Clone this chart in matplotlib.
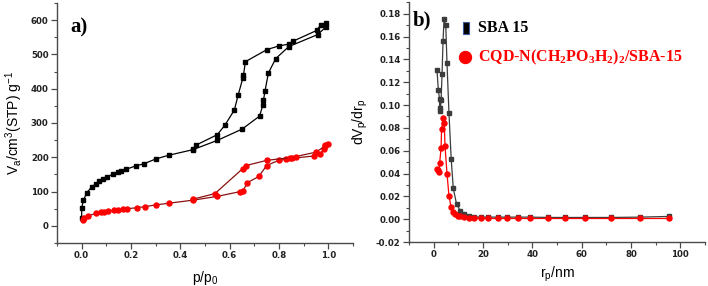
import matplotlib
matplotlib.use("Agg")
import matplotlib.pyplot as plt
from matplotlib.patches import Rectangle
from matplotlib.ticker import MultipleLocator, AutoMinorLocator

plt.rcParams['mathtext.default'] = 'regular'

# ---------------- data: panel a) isotherms ----------------
sba_ads_x = [0.0, 0.0, 0.007, 0.02, 0.04, 0.058, 0.072, 0.085, 0.104, 0.128, 0.147, 0.16, 0.18,
             0.22, 0.252, 0.30, 0.353, 0.45, 0.549, 0.65, 0.721, 0.735, 0.737, 0.743, 0.757,
             0.787, 0.84, 0.957, 0.99]
sba_ads_y = [22, 52, 74, 96, 113, 123, 130, 136, 143, 151, 156, 160, 165,
             175, 181, 195, 206, 222, 249, 282, 320, 353, 366, 392, 446,
             488, 523, 558, 580]
sba_des_x = [0.99, 0.97, 0.953, 0.855, 0.84, 0.80, 0.751, 0.664, 0.656, 0.653, 0.635, 0.619,
             0.581, 0.55, 0.465, 0.45]
sba_des_y = [592, 587, 570, 538, 530, 525, 514, 479, 440, 430, 383, 338,
             294, 266, 236, 224]

cqd_ads_x = [0.007, 0.009, 0.026, 0.06, 0.077, 0.09, 0.106, 0.133, 0.147, 0.166, 0.185, 0.225,
             0.255, 0.30, 0.353, 0.452, 0.55, 0.643, 0.654, 0.672, 0.718, 0.75, 0.798, 0.827,
             0.854, 0.943, 0.968, 0.984, 0.988]
cqd_ads_y = [18, 24, 29, 37, 39, 41, 43, 45, 47, 48, 50, 53,
             56, 61, 66, 75, 86, 100, 102, 126, 144, 176, 191, 194,
             197, 204, 211, 224, 237]
cqd_des_x = [0.997, 0.987, 0.95, 0.867, 0.845, 0.75, 0.667, 0.653, 0.54, 0.452]
cqd_des_y = [240, 233, 215, 202, 199, 191, 176, 167, 94, 78]

# ---------------- data: panel b) pore size distribution ----------------
sba_r = [1.35, 1.9, 2.4, 2.4, 2.7, 3.0, 3.4, 3.8, 4.2, 4.9, 5.4, 6.2, 7.1, 7.95, 9.3, 10.8,
         12.4, 14.3, 16.4, 19.1, 22.2, 25.9, 29.6, 34, 39, 46.4, 53.2, 61.3, 71.7, 83.8, 95.3]
sba_dv = [0.1306, 0.113, 0.105, 0.097, 0.0946, 0.104, 0.127, 0.156, 0.175, 0.170, 0.137,
          0.093, 0.053, 0.027, 0.013, 0.0074, 0.0044, 0.003, 0.002, 0.0018, 0.0018, 0.0018,
          0.0018, 0.0018, 0.0018, 0.0015, 0.0015, 0.0015, 0.0015, 0.0018, 0.0024]
cqd_r = [1.2, 1.6, 2.2, 2.4, 3.0, 3.2, 3.9, 4.3, 4.6, 5.4, 6.2, 7.1, 8.0, 8.8, 9.7, 10.8,
         12.4, 14.3, 16.4, 19.1, 22.2, 25.9, 29.6, 34, 39, 46.4, 53.2, 61.3, 71.7, 83.8, 95.3]
cqd_dv = [0.044, 0.043, 0.041, 0.049, 0.062, 0.079, 0.089, 0.084, 0.064, 0.040, 0.0206,
          0.0103, 0.0059, 0.0044, 0.0032, 0.0024, 0.0015, 0.001, 0.0008, 0.0007, 0.0006,
          0.0006, 0.0006, 0.0006, 0.0006, 0.0006, 0.0006, 0.0006, 0.0006, 0.0006, 0.0006]

legend_labels = ["SBA 15", "CQD-N(CH$_2$PO$_3$H$_2$)$_2$/SBA-15"]

W, H = 708, 286
fig = plt.figure(figsize=(W / 100, H / 100), dpi=100)

def px_axes(x0, y0, x1, y1):
    return fig.add_axes([x0 / W, 1 - y1 / H, (x1 - x0) / W, (y1 - y0) / H])

axA = px_axes(57, 3, 353, 243)
axB = px_axes(409, 2.3, 705, 242)

spine_col = '#4a4a4a'
for ax in (axA, axB):
    for s in ('top', 'right'):
        ax.spines[s].set_visible(False)
    for s in ('left', 'bottom'):
        ax.spines[s].set_color(spine_col)
        ax.spines[s].set_linewidth(1.0)
    ax.tick_params(which='major', direction='out', length=4, width=0.9, color=spine_col,
                   labelsize=6.2, pad=2, labelcolor='#222222')
    ax.tick_params(which='minor', direction='out', length=2.2, width=0.8, color=spine_col)
    for lab in ax.get_xticklabels() + ax.get_yticklabels():
        lab.set_fontweight('bold')
    ax.xaxis.set_minor_locator(AutoMinorLocator(2))
    ax.yaxis.set_minor_locator(AutoMinorLocator(2))

# panel a
lw = 0.9
axA.plot(sba_ads_x, sba_ads_y, color='black', lw=lw, marker='s', ms=3.2, mfc='black', mec='black')
axA.plot(sba_des_x, sba_des_y, color='black', lw=lw, marker='s', ms=3.2, mfc='black', mec='black')
axA.plot(cqd_ads_x, cqd_ads_y, color='#8b1010', lw=lw, marker='o', ms=3.6, mfc='red', mec='red')
axA.plot(cqd_des_x, cqd_des_y, color='#8b1010', lw=lw, marker='o', ms=3.6, mfc='red', mec='red')
axA.set_xlim(-0.1, 1.1)
axA.set_ylim(-50, 650)
axA.xaxis.set_major_locator(MultipleLocator(0.2))
axA.yaxis.set_major_locator(MultipleLocator(100))
axA.set_xticks([0.0, 0.2, 0.4, 0.6, 0.8, 1.0])
axA.set_xticklabels(['0.0', '0.2', '0.4', '0.6', '0.8', '1.0'], fontweight='bold')
axA.set_yticks([0, 100, 200, 300, 400, 500, 600])
axA.set_yticklabels(['0', '100', '200', '300', '400', '500', '600'], fontweight='bold')
axA.set_xlabel('p/p$_0$', fontsize=10, labelpad=6, family='Liberation Sans')
axA.set_ylabel('V$_a$/cm$^3$(STP) g$^{-1}$', fontsize=10, labelpad=4, family='Liberation Sans')
axA.text(70 / W, 1 - 27 / H, 'a)', transform=fig.transFigure, fontsize=15, fontweight='bold',
         family='Liberation Serif', va='center', ha='left')

# panel b
axB.plot(sba_r, sba_dv, color='#3c3c3c', lw=lw, marker='s', ms=3.2, mfc='#3c3c3c', mec='#3c3c3c')
axB.plot(cqd_r, cqd_dv, color='red', lw=lw, marker='o', ms=3.6, mfc='red', mec='red')
axB.set_xlim(-10, 110)
axB.set_ylim(-0.02, 0.19)
axB.set_xticks([0, 20, 40, 60, 80, 100])
axB.set_xticklabels(['0', '20', '40', '60', '80', '100'], fontweight='bold')
yt = [-0.02, 0.0, 0.02, 0.04, 0.06, 0.08, 0.10, 0.12, 0.14, 0.16, 0.18]
axB.set_yticks(yt)
axB.set_yticklabels(['%.2f' % v for v in yt], fontweight='bold')
axB.set_xlabel('r$_p$/nm', fontsize=10, labelpad=4, family='Liberation Sans')
axB.set_ylabel('dV$_p$/dr$_p$', fontsize=10, labelpad=4, family='Liberation Sans')
axB.text(413 / W, 1 - 20 / H, 'b)', transform=fig.transFigure, fontsize=15, fontweight='bold',
         family='Liberation Serif', va='center', ha='left')

# legend (manual)
fig.patches.append(Rectangle((463 / W, 1 - 34 / H), 6 / W, 12 / H, transform=fig.transFigure,
                             facecolor='black', edgecolor='#3a5a9a', lw=0.8))
fig.text(478 / W, 1 - 28 / H, legend_labels[0], fontsize=11.5, fontweight='bold',
         family='Liberation Serif', color='black', va='center', ha='left')
fig.lines.append(plt.Line2D([464.5 / W], [1 - 57 / H], transform=fig.transFigure, marker='o',
                            ms=8.6, mfc='red', mec='red', ls='none'))
fig.text(478 / W, 1 - 57 / H, legend_labels[1], fontsize=11.5, fontweight='bold',
         family='Liberation Serif', color='red', va='center', ha='left')

fig.savefig('out.png', dpi=100)
